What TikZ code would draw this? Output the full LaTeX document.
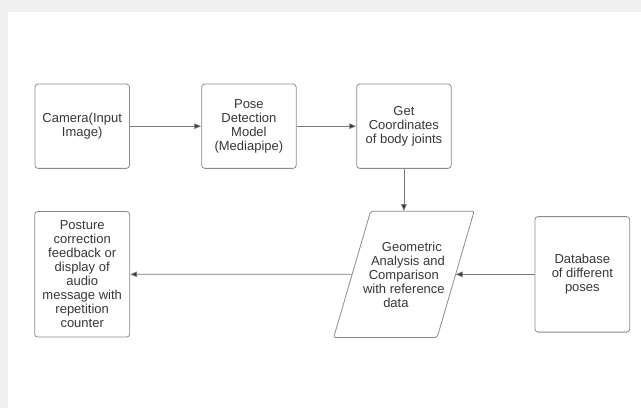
\documentclass[tikz,border=0pt]{standalone}
\usepackage{fontspec}
\setmainfont{Liberation Sans}
\usepackage{tikz}
\usetikzlibrary{arrows.meta, positioning}
\definecolor{pagegray}{RGB}{240,240,240}
\definecolor{linegray}{RGB}{120,120,120}
\definecolor{boxline}{RGB}{140,140,140}
\definecolor{tipdark}{RGB}{50,50,50}
\definecolor{txtdark}{RGB}{55,55,55}
\tikzset{
  basebox/.style={rectangle,rounded corners=3pt,draw=boxline,line width=0.8pt,align=center,
    text=txtdark,font=\fontsize{13}{14}\selectfont,inner sep=0pt},
  stepbox/.style={basebox,minimum width=94.5pt,minimum height=84.3pt},
  parabox/.style={basebox,draw=none,minimum width=102.7pt,minimum height=125.6pt},
  paraline/.style={draw=boxline,line width=0.8pt,rounded corners=2pt},
  arr/.style={-{Triangle[length=7pt,width=5.5pt,fill=tipdark]},draw=linegray,line width=0.8pt}
}

\begin{document}
\begin{tikzpicture}
  \fill[pagegray] (0pt,0pt) rectangle (641pt,-408pt);
  \fill[white] (8pt,-12pt) rectangle (641pt,-408pt);
  \useasboundingbox (0pt,0pt) rectangle (641pt,-408pt);

  \node[stepbox] (cam) at (82.2pt,-126.2pt) {Camera(Input\\Image)};
  \node[stepbox,right=71.4pt of cam] (pose) {Pose\\Detection\\Model\\(Mediapipe)};
  \node[stepbox,right=59.7pt of pose] (getc) {Get\\Coordinates\\of body joints};

  \node[stepbox,below=42.4pt of cam,minimum width=95pt,minimum height=125.5pt] (post)
    {Posture\\correction\\feedback or\\display of\\audio\\message with\\repetition\\counter};
  \node[parabox,below=42.4pt of getc] (para)
    {\hspace*{16pt}Geometric\\
     \hspace*{8pt}Analysis and\\
     Comparison\\
     with reference\hspace*{8pt}\\
     data\hspace*{16pt}};
  \draw[paraline] ([xshift=18.5pt]para.north west) -- ([xshift=18.5pt]para.north east)
    -- ([xshift=-18.5pt]para.south east) -- ([xshift=-18.5pt]para.south west) -- cycle;
  \node[stepbox,right=79pt of para,minimum width=94.6pt,minimum height=115.5pt] (db)
    {Database\\of different\\poses};

  \draw[arr] (cam) -- (pose);
  \draw[arr] (pose) -- (getc);
  \draw[arr] (getc) -- (para);
  \draw[arr] (para) -- (post);
  \draw[arr] (db) -- (para);
\end{tikzpicture}
\end{document}
